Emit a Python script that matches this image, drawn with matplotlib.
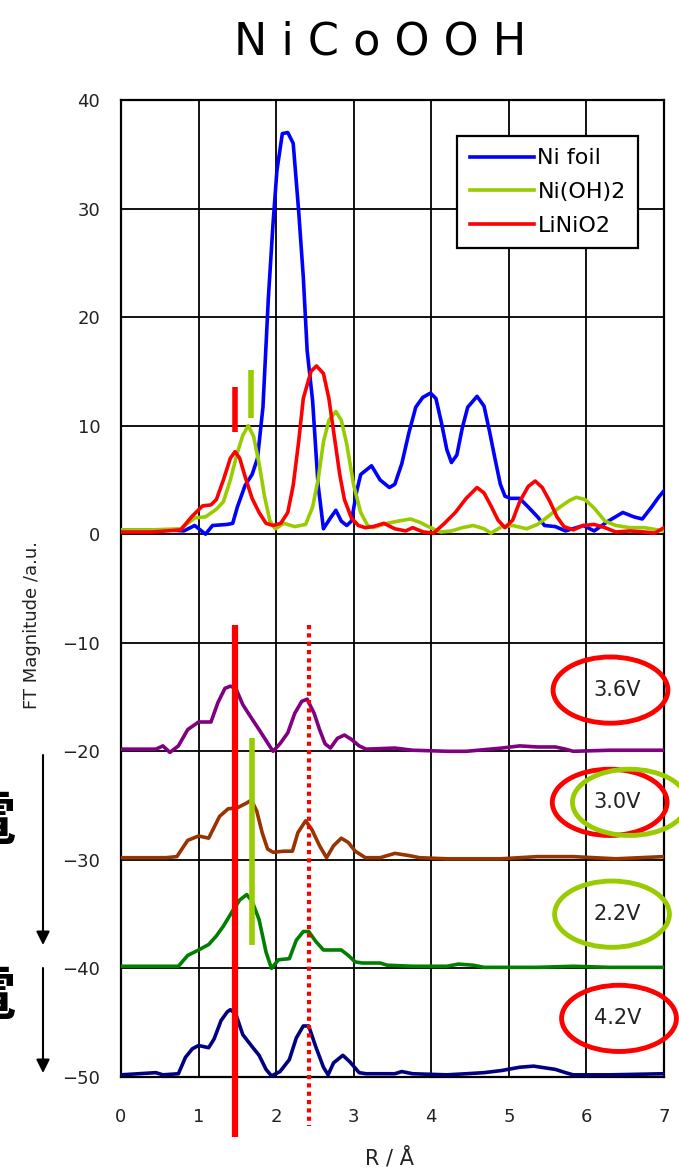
import matplotlib
matplotlib.use("Agg")
import matplotlib.pyplot as plt
from matplotlib.patches import Ellipse, FancyArrowPatch

# ---- reference spectra (upper panel) ----
r_ni = [0, 0.3, 0.6, 0.81, 0.95, 1.09, 1.18, 1.37, 1.44, 1.5, 1.6, 1.69, 1.76, 1.83, 1.9,
        1.96, 2.01, 2.08, 2.15, 2.22, 2.29, 2.35, 2.4, 2.47, 2.54, 2.61, 2.7, 2.77, 2.84, 2.91,
        2.97, 3.04, 3.09, 3.23, 3.34, 3.46, 3.53, 3.62, 3.71, 3.8, 3.89, 3.99, 4.06, 4.13, 4.2,
        4.26, 4.33, 4.4, 4.47, 4.59, 4.68, 4.75, 4.82, 4.89, 4.95, 5.02, 5.14, 5.25, 5.37, 5.46,
        5.6, 5.73, 5.87, 5.96, 6.1, 6.28, 6.47, 6.61, 6.72, 6.84, 6.93, 7.0]
ni_foil = [0.4, 0.4, 0.4, 0.3, 0.8, 0.0, 0.8, 0.9, 1.0, 2.5, 4.5, 5.5, 7.0, 11.7, 21.8,
           28.6, 33.5, 36.9, 37.0, 36.0, 29.8, 23.7, 16.9, 12.3, 4.6, 0.5, 1.5, 2.2, 1.2, 0.8,
           1.2, 4.0, 5.5, 6.3, 5.0, 4.3, 4.6, 6.5, 9.3, 11.7, 12.6, 13.0, 12.5, 10.3, 7.8,
           6.6, 7.3, 9.8, 11.7, 12.7, 11.8, 9.5, 7.0, 4.6, 3.5, 3.3, 3.3, 2.5, 1.6, 0.8,
           0.7, 0.3, 0.6, 0.8, 0.3, 1.2, 2.0, 1.6, 1.4, 2.5, 3.4, 4.0]

r_oh = [0, 0.4, 0.77, 0.95, 1.09, 1.23, 1.32, 1.41, 1.5, 1.57, 1.64, 1.71, 1.78, 1.85, 1.92,
        1.99, 2.1, 2.24, 2.38, 2.47, 2.54, 2.61, 2.68, 2.77, 2.84, 2.91, 3.0, 3.09, 3.18, 3.25,
        3.43, 3.57, 3.73, 3.85, 3.99, 4.12, 4.26, 4.4, 4.54, 4.68, 4.77, 4.91, 5.05, 5.23, 5.37,
        5.5, 5.64, 5.78, 5.87, 5.98, 6.1, 6.24, 6.38, 6.56, 6.75, 7.0]
ni_oh2 = [0.4, 0.4, 0.5, 1.5, 1.6, 2.3, 3.0, 5.0, 7.5, 9.1, 10.0, 9.0, 6.5, 3.5, 1.2,
          0.5, 1.0, 0.7, 0.9, 2.5, 5.0, 8.5, 10.5, 11.3, 10.5, 8.3, 4.5, 2.0, 0.8, 0.6,
          1.0, 1.2, 1.4, 1.1, 0.6, 0.2, 0.3, 0.6, 0.8, 0.5, 0.1, 0.7, 0.8, 0.5, 0.9,
          1.6, 2.4, 3.1, 3.4, 3.2, 2.4, 1.2, 0.8, 0.6, 0.6, 0.3]

r_li = [0, 0.4, 0.77, 0.91, 1.05, 1.16, 1.23, 1.32, 1.41, 1.47, 1.53, 1.6, 1.69, 1.78, 1.87,
        1.96, 2.06, 2.15, 2.22, 2.29, 2.35, 2.45, 2.52, 2.61, 2.68, 2.75, 2.82, 2.88, 2.97, 3.06,
        3.15, 3.25, 3.39, 3.53, 3.67, 3.76, 3.9, 4.03, 4.17, 4.31, 4.45, 4.59, 4.68, 4.77, 4.86,
        4.95, 5.05, 5.14, 5.25, 5.34, 5.43, 5.53, 5.62, 5.71, 5.83, 5.96, 6.1, 6.24, 6.38, 6.56,
        6.75, 6.88, 7.0]
linio2 = [0.2, 0.2, 0.4, 1.6, 2.6, 2.7, 3.2, 5.0, 7.0, 7.6, 7.0, 5.3, 3.3, 2.0, 1.0,
          0.8, 1.0, 2.0, 4.5, 8.5, 12.5, 15.0, 15.5, 14.8, 12.5, 9.0, 5.5, 3.2, 1.5, 0.8,
          0.6, 0.7, 1.0, 0.5, 0.3, 0.6, 0.2, 0.1, 1.0, 2.0, 3.3, 4.3, 3.8, 2.6, 1.3,
          0.6, 1.3, 3.0, 4.4, 4.9, 4.3, 3.0, 1.6, 0.7, 0.4, 0.8, 0.9, 0.6, 0.2, 0.3,
          0.2, 0.1, 0.6]

# ---- NiCoOOH at each voltage (lower panel), values above their own baseline ----
r_36 = [0, 0.45, 0.54, 0.63, 0.74, 0.86, 1.0, 1.16, 1.25, 1.34, 1.41, 1.48, 1.57, 1.66, 1.78,
        1.87, 1.96, 2.05, 2.15, 2.24, 2.33, 2.4, 2.49, 2.56, 2.63, 2.7, 2.79, 2.88, 2.97, 3.07,
        3.16, 3.53, 3.76, 4.22, 4.45, 4.91, 5.14, 5.37, 5.6, 5.73, 5.83, 6.3, 7.0]
v_36 = [0.2, 0.2, 0.5, -0.1, 0.5, 2.0, 2.7, 2.7, 4.5, 5.8, 6.0, 5.8, 4.3, 3.3, 2.0,
        1.0, 0.0, 0.7, 1.7, 3.5, 4.6, 4.8, 3.5, 2.0, 0.7, 0.3, 1.2, 1.5, 1.1, 0.5,
        0.2, 0.3, 0.1, 0.0, 0.0, 0.3, 0.5, 0.4, 0.4, 0.2, 0.0, 0.1, 0.1]

r_30 = [0, 0.58, 0.72, 0.86, 1.0, 1.13, 1.27, 1.38, 1.5, 1.61, 1.68, 1.75, 1.82, 1.89, 1.96,
        2.1, 2.21, 2.28, 2.38, 2.46, 2.56, 2.65, 2.74, 2.84, 2.93, 3.02, 3.15, 3.34, 3.53, 3.71,
        3.85, 4.2, 4.9, 5.37, 5.83, 6.38, 7.0]
v_30 = [0.2, 0.2, 0.3, 1.8, 2.2, 2.0, 4.0, 4.7, 4.8, 5.2, 5.5, 4.5, 2.5, 1.0, 0.7,
        0.8, 0.8, 2.5, 3.6, 2.8, 1.3, 0.2, 1.3, 2.0, 1.6, 0.8, 0.2, 0.2, 0.6, 0.4,
        0.2, 0.1, 0.1, 0.3, 0.3, 0.1, 0.3]

r_22 = [0, 0.74, 0.86, 1.0, 1.13, 1.23, 1.32, 1.43, 1.53, 1.62, 1.69, 1.78, 1.87, 1.94, 2.03,
        2.17, 2.26, 2.35, 2.42, 2.51, 2.61, 2.7, 2.84, 2.93, 3.02, 3.11, 3.34, 3.43, 3.76, 3.99,
        4.2, 4.35, 4.54, 4.68, 5.37, 5.83, 6.3, 7.0]
v_22 = [0.2, 0.2, 1.2, 1.7, 2.2, 3.0, 3.9, 5.2, 6.3, 6.8, 6.2, 4.5, 1.5, 0.0, 0.8,
        0.9, 2.6, 3.4, 3.4, 2.5, 1.7, 1.7, 1.7, 1.2, 0.6, 0.5, 0.5, 0.3, 0.2, 0.2,
        0.2, 0.4, 0.3, 0.1, 0.1, 0.2, 0.1, 0.1]

r_42 = [0, 0.45, 0.54, 0.74, 0.83, 0.92, 1.0, 1.13, 1.2, 1.29, 1.37, 1.41, 1.48, 1.57, 1.69,
        1.78, 1.87, 1.94, 2.05, 2.17, 2.26, 2.35, 2.42, 2.51, 2.61, 2.67, 2.74, 2.86, 2.95, 3.07,
        3.16, 3.53, 3.62, 3.76, 4.2, 4.45, 4.68, 4.91, 5.14, 5.32, 5.6, 5.73, 5.83, 6.3, 7.0]
v_42 = [0.2, 0.4, 0.2, 0.3, 1.8, 2.6, 2.9, 2.7, 3.5, 5.2, 6.0, 6.2, 5.8, 3.9, 2.8,
        2.0, 0.7, 0.1, 0.5, 1.6, 3.6, 4.7, 4.7, 2.8, 0.9, 0.2, 1.3, 2.0, 1.4, 0.4,
        0.3, 0.3, 0.5, 0.3, 0.2, 0.3, 0.4, 0.6, 0.9, 1.0, 0.7, 0.4, 0.2, 0.2, 0.3]

VOLTS    = ["3.6V", "3.0V", "2.2V", "4.2V"]
BASELINE = [-20, -30, -40, -50]
TRACES   = [(r_36, v_36), (r_30, v_30), (r_22, v_22), (r_42, v_42)]
VCOLORS  = ["#800080", "#993300", "#008000", "#000080"]

X_TICKS = [0, 1, 2, 3, 4, 5, 6, 7]
Y_TICKS = [40, 30, 20, 10, 0, -10, -20, -30, -40, -50]

RED = "#FF0000"
LIME = "#99CC00"

fig = plt.figure(figsize=(6.79, 11.69), dpi=100)
fig.patch.set_facecolor("white")
ax = fig.add_axes([0.1782, 0.0787, 0.7997, 0.8358])

ax.set_xlim(0, 7)
ax.set_ylim(-50, 40)
ax.set_xticks(X_TICKS)
ax.set_yticks(Y_TICKS)
ax.set_yticklabels([str(v).replace("-", "\u2212") for v in Y_TICKS])
ax.tick_params(length=0, labelsize=13, colors="#222222")
ax.tick_params(axis="y", pad=15)
ax.tick_params(axis="x", pad=22)
ax.grid(True, color="black", linewidth=1.3)
ax.set_axisbelow(True)
for s in ax.spines.values():
    s.set_linewidth(1.6)
    s.set_color("black")

# upper panel references
ax.plot(r_ni, ni_foil, color="#0000FF", lw=2.6, label="Ni foil", zorder=3)
ax.plot(r_oh, ni_oh2, color=LIME, lw=2.6, label="Ni(OH)2", zorder=3)
ax.plot(r_li, linio2, color=RED, lw=2.6, label="LiNiO2", zorder=3)

# lower panel: NiCoOOH spectra
for (r, v), base, c in zip(TRACES, BASELINE, VCOLORS):
    ax.plot(r, [base + y for y in v], color=c, lw=2.6, zorder=3)

# marker bars
ax.plot([1.47, 1.47], [9.4, 13.6], color=RED, lw=4, solid_capstyle="butt", zorder=4)
ax.plot([1.68, 1.68], [10.7, 15.1], color=LIME, lw=4, solid_capstyle="butt", zorder=4)
ax.plot([1.69, 1.69], [-18.8, -37.8], color=LIME, lw=4, solid_capstyle="butt", zorder=4)
ax.plot([1.47, 1.47], [-8.4, -55.5], color=RED, lw=4.5, solid_capstyle="butt",
        zorder=5, clip_on=False)
ax.plot([2.42, 2.42], [-8.4, -54.5], color=RED, lw=3, ls=(0, (1, 1)),
        solid_capstyle="butt", zorder=5, clip_on=False)

# voltage labels with ellipses
lab_y = [-14.36, -24.7, -35.0, -44.6]
for txt, y in zip(VOLTS, lab_y):
    ax.text(6.40, y, txt, fontsize=15, color="#222222", ha="center", va="center", zorder=6)
ells = [(6.31, -14.36, RED), (6.30, -24.7, RED), (6.56, -24.7, LIME),
        (6.33, -35.0, LIME), (6.42, -44.6, RED)]
for ex, ey, ec in ells:
    ax.add_patch(Ellipse((ex, ey), 1.48, 6.1, fill=False, edgecolor=ec, lw=3.5,
                         zorder=6, clip_on=False))

leg = ax.legend(loc="upper right", bbox_to_anchor=(0.952, 0.963), fontsize=16,
                frameon=True, fancybox=False, framealpha=1, edgecolor="black",
                handlelength=2.9, handletextpad=0.15, labelspacing=0.62,
                borderpad=0.55, borderaxespad=0)
leg.get_frame().set_linewidth(1.6)
leg.set_zorder(7)

# figure texts
fig.text(380/679, 1 - 42/1169, "N i C o O O H", fontsize=32, ha="center", va="center")
fig.text(32/679, 1 - 625/1169, "FT Magnitude /a.u.", fontsize=13, rotation=90,
         ha="center", va="center", color="#222222")
fig.text(390/679, 1 - 1158/1169, "R / Å", fontsize=15, ha="center", va="center",
         color="#222222")

# side characters, cut by the left edge as in the source image
for yc in [822, 997]:
    fig.text(16/679, 1 - yc/1169, "電", fontsize=42, fontweight="bold",
             family=["Noto Sans CJK JP", "DejaVu Sans"], ha="right", va="center")

for y0, y1 in [(755, 945), (968, 1073)]:
    fig.add_artist(FancyArrowPatch((43/679, 1 - y0/1169), (43/679, 1 - y1/1169),
                                   transform=fig.transFigure, arrowstyle="-|>",
                                   mutation_scale=20, lw=1.5, color="black",
                                   shrinkA=0, shrinkB=0))

fig.savefig("out.png", dpi=100, facecolor="white")
